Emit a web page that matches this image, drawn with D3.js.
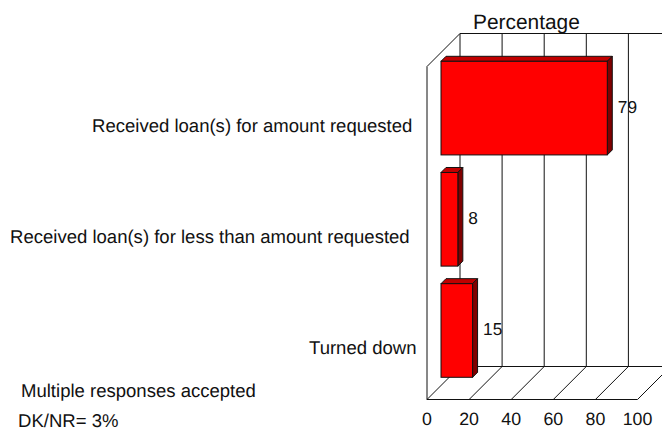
<!DOCTYPE html>
<html><head><meta charset="utf-8">
<script src="https://cdn.jsdelivr.net/npm/d3@7/dist/d3.min.js"></script>
<style>html,body{margin:0;padding:0;background:#fff}svg{display:block}text{font-family:"Liberation Sans",Arial,sans-serif;fill:#111;text-rendering:geometricPrecision}</style>
</head><body><svg id="c" width="662" height="429"></svg>
<script>
const categories=["Received loan(s) for amount requested","Received loan(s) for less than amount requested","Turned down"];
const values=[79,8,15];
const ticks=[0,20,40,60,80,100];
const svg=d3.select("#c");
const x=d3.scaleLinear().domain([0,100]).range([427,637.5]);
const depth=33, floorY=399.5, topY=66.5;
const y=d3.scaleBand().domain(categories).range([61.3,377.3]).paddingInner(0.1579);
const barOff=14, bd=5;
const g=svg.append("g").attr("fill","none").attr("stroke","#111").attr("stroke-width",1);
const L=(a,b,c,d)=>g.append("line").attr("x1",a).attr("y1",b).attr("x2",c).attr("y2",d);
ticks.forEach(t=>{
  L(x(t)+depth,floorY-depth,x(t)+depth,topY-depth);
  L(x(t),floorY,x(t)+depth,floorY-depth);
});
L(x(0),floorY,x(100),floorY);
L(x(0),floorY,x(0),topY);
L(x(0),topY,x(0)+depth,topY-depth);
L(x(0)+depth,topY-depth,662,topY-depth);
L(x(0)+depth,floorY-depth,662,floorY-depth);
const bars=svg.append("g").selectAll("g").data(values).join("g");
const w=d=>x(d)-x(0), bx=barOff+x(0);
const py=(i)=>y(categories[i]);
bars.append("path").attr("fill","#c00000").attr("stroke","#111").attr("stroke-width",1)
 .attr("d",(d,i)=>`M${bx},${py(i)}l${bd},${-bd}h${w(d)}l${-bd},${bd}z`);
bars.append("path").attr("fill","#800000").attr("stroke","#111").attr("stroke-width",1)
 .attr("d",(d,i)=>`M${bx+w(d)},${py(i)}l${bd},${-bd}v${y.bandwidth()}l${-bd},${bd}z`);
bars.append("rect").attr("fill","#ff0000").attr("stroke","#111").attr("stroke-width",1)
 .attr("x",bx).attr("y",(d,i)=>py(i)).attr("width",w).attr("height",y.bandwidth());
const fs=18.55;
bars.append("text").attr("x",d=>bx+w(d)+10.5).attr("y",(d,i)=>py(i)+y.bandwidth()/2+5).attr("font-size",17.3).text(d=>d);
svg.append("g").selectAll("text").data(ticks).join("text").attr("x",d=>x(d)).attr("y",425).attr("text-anchor","middle").attr("font-size",17.8).text(d=>d);
const labelPos=[[92,132],[10,243],[309,354]];
svg.append("g").selectAll("text").data(categories).join("text").attr("x",(d,i)=>labelPos[i][0]).attr("y",(d,i)=>labelPos[i][1]).attr("font-size",fs).text(d=>d);
svg.append("text").attr("x",473).attr("y",29).attr("font-size",20.9).text("Percentage");
svg.append("text").attr("x",21).attr("y",397).attr("font-size",fs).text("Multiple responses accepted");
svg.append("text").attr("x",18).attr("y",426.5).attr("font-size",fs).text("DK/NR= 3%");
</script></body></html>
